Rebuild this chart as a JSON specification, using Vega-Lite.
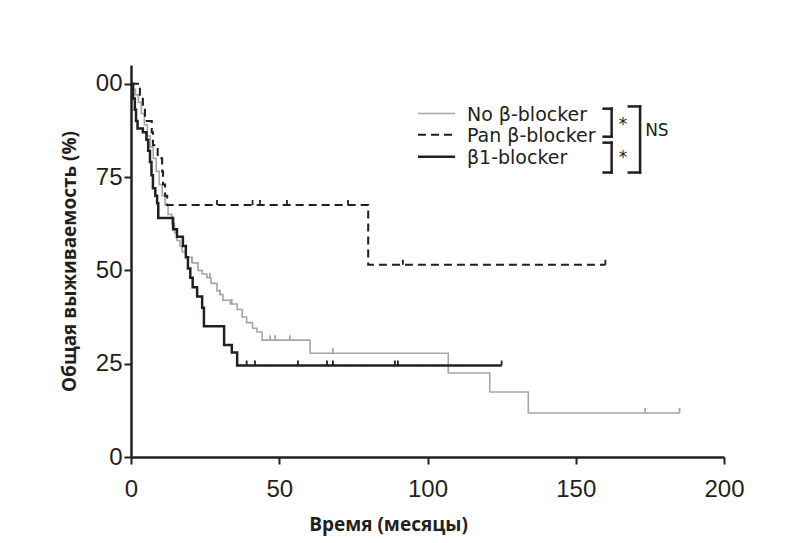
{
  "$schema": "https://vega.github.io/schema/vega-lite/v6.json",
  "autosize": {"type": "none"},
  "width": 593,
  "height": 392,
  "padding": {"left": 131, "top": 65, "right": 70, "bottom": 86},
  "background": "white",
  "config": {
    "view": {"stroke": null},
    "font": "Liberation Sans",
    "axis": {
      "grid": false,
      "domainColor": "#231f20",
      "domainWidth": 2.5,
      "tickColor": "#231f20",
      "tickWidth": 2,
      "tickSize": 7,
      "labelColor": "#231f20",
      "labelFont": "Liberation Sans",
      "labelFontSize": 24,
      "labelFlush": false,
      "labelOverlap": false,
      "titleColor": "#231f20",
      "titleFont": "Open Sans",
      "titleFontWeight": "bold",
      "titleFontSize": 19
    }
  },
  "datasets": {
    "km": [
      {"g": "No β-blocker", "t": 0, "s": 100},
      {"g": "No β-blocker", "t": 0.7, "s": 98.5},
      {"g": "No β-blocker", "t": 1.5, "s": 97},
      {"g": "No β-blocker", "t": 2.5, "s": 95},
      {"g": "No β-blocker", "t": 3.5, "s": 92},
      {"g": "No β-blocker", "t": 4.5, "s": 89},
      {"g": "No β-blocker", "t": 5.5, "s": 86},
      {"g": "No β-blocker", "t": 6.5, "s": 83},
      {"g": "No β-blocker", "t": 7.5, "s": 80},
      {"g": "No β-blocker", "t": 8.5, "s": 76.5},
      {"g": "No β-blocker", "t": 9.5, "s": 73},
      {"g": "No β-blocker", "t": 10.5, "s": 70},
      {"g": "No β-blocker", "t": 11.5, "s": 67.5},
      {"g": "No β-blocker", "t": 12.5, "s": 65},
      {"g": "No β-blocker", "t": 13.8, "s": 62.5},
      {"g": "No β-blocker", "t": 14.7, "s": 60},
      {"g": "No β-blocker", "t": 15.5, "s": 58},
      {"g": "No β-blocker", "t": 16.5, "s": 56.5},
      {"g": "No β-blocker", "t": 17.2, "s": 55},
      {"g": "No β-blocker", "t": 18.5, "s": 53.5},
      {"g": "No β-blocker", "t": 20.6, "s": 52},
      {"g": "No β-blocker", "t": 22.6, "s": 50},
      {"g": "No β-blocker", "t": 24, "s": 49},
      {"g": "No β-blocker", "t": 25.6, "s": 48},
      {"g": "No β-blocker", "t": 27, "s": 46.5},
      {"g": "No β-blocker", "t": 29, "s": 44.5},
      {"g": "No β-blocker", "t": 30, "s": 43.5},
      {"g": "No β-blocker", "t": 31, "s": 42},
      {"g": "No β-blocker", "t": 33.5, "s": 41},
      {"g": "No β-blocker", "t": 35.8, "s": 39.5},
      {"g": "No β-blocker", "t": 37.5, "s": 37.5},
      {"g": "No β-blocker", "t": 39, "s": 36},
      {"g": "No β-blocker", "t": 41, "s": 34.5},
      {"g": "No β-blocker", "t": 42.5, "s": 33.5},
      {"g": "No β-blocker", "t": 44.2, "s": 31.3},
      {"g": "No β-blocker", "t": 60.4, "s": 27.8},
      {"g": "No β-blocker", "t": 107, "s": 22.5},
      {"g": "No β-blocker", "t": 121, "s": 17.4},
      {"g": "No β-blocker", "t": 134, "s": 11.8},
      {"g": "No β-blocker", "t": 185, "s": 11.8},
      {"g": "β1-blocker", "t": 0, "s": 100},
      {"g": "β1-blocker", "t": 0.7, "s": 96},
      {"g": "β1-blocker", "t": 1.3, "s": 93},
      {"g": "β1-blocker", "t": 1.7, "s": 90},
      {"g": "β1-blocker", "t": 2.2, "s": 88},
      {"g": "β1-blocker", "t": 4, "s": 87},
      {"g": "β1-blocker", "t": 5.2, "s": 85},
      {"g": "β1-blocker", "t": 5.8, "s": 82},
      {"g": "β1-blocker", "t": 6.4, "s": 79},
      {"g": "β1-blocker", "t": 6.9, "s": 75.5},
      {"g": "β1-blocker", "t": 7.4, "s": 72},
      {"g": "β1-blocker", "t": 8.2, "s": 70},
      {"g": "β1-blocker", "t": 8.8, "s": 68},
      {"g": "β1-blocker", "t": 9.2, "s": 64},
      {"g": "β1-blocker", "t": 14.2, "s": 61},
      {"g": "β1-blocker", "t": 15.5, "s": 59},
      {"g": "β1-blocker", "t": 17.5, "s": 56.5},
      {"g": "β1-blocker", "t": 18.5, "s": 53.5},
      {"g": "β1-blocker", "t": 19.2, "s": 50.5},
      {"g": "β1-blocker", "t": 20, "s": 48},
      {"g": "β1-blocker", "t": 20.8, "s": 45.5},
      {"g": "β1-blocker", "t": 22.3, "s": 43},
      {"g": "β1-blocker", "t": 24, "s": 40},
      {"g": "β1-blocker", "t": 24.6, "s": 35},
      {"g": "β1-blocker", "t": 31.4, "s": 30},
      {"g": "β1-blocker", "t": 34, "s": 28},
      {"g": "β1-blocker", "t": 35.8, "s": 24.5},
      {"g": "β1-blocker", "t": 125, "s": 24.5},
      {"g": "Pan β-blocker", "t": 0, "s": 100},
      {"g": "Pan β-blocker", "t": 3, "s": 96.5},
      {"g": "Pan β-blocker", "t": 4, "s": 93},
      {"g": "Pan β-blocker", "t": 4.7, "s": 90},
      {"g": "Pan β-blocker", "t": 7, "s": 87},
      {"g": "Pan β-blocker", "t": 7.4, "s": 83.5},
      {"g": "Pan β-blocker", "t": 9, "s": 80},
      {"g": "Pan β-blocker", "t": 10.5, "s": 76.5},
      {"g": "Pan β-blocker", "t": 10.8, "s": 73},
      {"g": "Pan β-blocker", "t": 11.5, "s": 70},
      {"g": "Pan β-blocker", "t": 12.2, "s": 67.5},
      {"g": "Pan β-blocker", "t": 80, "s": 51.5},
      {"g": "Pan β-blocker", "t": 160, "s": 51.5}
    ],
    "cens": [
      {"g": "No β-blocker", "t": 20.5, "s": 52},
      {"g": "No β-blocker", "t": 26.6, "s": 48},
      {"g": "No β-blocker", "t": 30, "s": 43.5},
      {"g": "No β-blocker", "t": 34, "s": 41},
      {"g": "No β-blocker", "t": 46.9, "s": 31.3},
      {"g": "No β-blocker", "t": 48.6, "s": 31.3},
      {"g": "No β-blocker", "t": 53.6, "s": 31.3},
      {"g": "No β-blocker", "t": 68.1, "s": 27.8},
      {"g": "No β-blocker", "t": 173.4, "s": 11.8},
      {"g": "No β-blocker", "t": 185, "s": 11.8},
      {"g": "β1-blocker", "t": 39, "s": 24.5},
      {"g": "β1-blocker", "t": 41.8, "s": 24.5},
      {"g": "β1-blocker", "t": 56.3, "s": 24.5},
      {"g": "β1-blocker", "t": 66.1, "s": 24.5},
      {"g": "β1-blocker", "t": 68.1, "s": 24.5},
      {"g": "β1-blocker", "t": 89, "s": 24.5},
      {"g": "β1-blocker", "t": 90, "s": 24.5},
      {"g": "β1-blocker", "t": 125, "s": 24.5},
      {"g": "Pan β-blocker", "t": 29, "s": 67.5},
      {"g": "Pan β-blocker", "t": 41, "s": 67.5},
      {"g": "Pan β-blocker", "t": 43.5, "s": 67.5},
      {"g": "Pan β-blocker", "t": 52.6, "s": 67.5},
      {"g": "Pan β-blocker", "t": 73.2, "s": 67.5},
      {"g": "Pan β-blocker", "t": 91.7, "s": 51.5},
      {"g": "Pan β-blocker", "t": 160, "s": 51.5}
    ],
    "leg": [
      {"g": "No β-blocker", "x1": 96.8, "x2": 109.3, "y": 92, "lx": 113.3},
      {"g": "Pan β-blocker", "x1": 96.8, "x2": 109.3, "y": 86.3, "lx": 113.3},
      {"g": "β1-blocker", "x1": 96.8, "x2": 109.3, "y": 80.4, "lx": 113.3}
    ],
    "br": [
      {"x1": 162.1, "y1": 93.3, "x2": 162.1, "y2": 85.8},
      {"x1": 159.4, "y1": 93.3, "x2": 162.1, "y2": 93.3},
      {"x1": 159.4, "y1": 85.8, "x2": 162.1, "y2": 85.8},
      {"x1": 162.1, "y1": 84.2, "x2": 162.1, "y2": 76.2},
      {"x1": 159.4, "y1": 84.2, "x2": 162.1, "y2": 84.2},
      {"x1": 159.4, "y1": 76.2, "x2": 162.1, "y2": 76.2},
      {"x1": 171.7, "y1": 93.9, "x2": 171.7, "y2": 76.2},
      {"x1": 167.9, "y1": 93.9, "x2": 171.7, "y2": 93.9},
      {"x1": 167.9, "y1": 76.2, "x2": 171.7, "y2": 76.2}
    ],
    "notes": [
      {"x": 164.5, "y": 88.8, "text": "*"},
      {"x": 164.5, "y": 80.2, "text": "*"},
      {"x": 173.4, "y": 87.4, "text": "NS"}
    ]
  },
  "layer": [
    {
      "data": {"name": "km"},
      "mark": {"type": "line", "interpolate": "step-after", "strokeCap": "butt"},
      "encoding": {
        "x": {
          "field": "t", "type": "quantitative",
          "scale": {"domain": [0, 200], "nice": false},
          "axis": {
            "values": [0, 50, 100, 150, 200],
            "labelPadding": 13,
            "title": "Время (месяцы)",
            "titleX": 257, "titleY": 67,
            "titleAlign": "center", "titleBaseline": "middle"
          }
        },
        "y": {
          "field": "s", "type": "quantitative",
          "scale": {"domain": [0, 105], "nice": false},
          "axis": {
            "values": [0, 25, 50, 75, 100],
            "labelExpr": "datum.value == 100 ? '00' : datum.label",
            "labelPadding": 2,
            "title": "Общая выживаемость (%)",
            "titleX": -62, "titleY": 196,
            "titleAngle": -90,
            "titleAlign": "center", "titleBaseline": "middle"
          }
        },
        "color": {
          "field": "g", "type": "nominal",
          "scale": {"domain": ["No β-blocker", "Pan β-blocker", "β1-blocker"], "range": ["#a6a6a6", "#231f20", "#231f20"]},
          "legend": null
        },
        "strokeDash": {
          "field": "g", "type": "nominal",
          "scale": {"domain": ["No β-blocker", "Pan β-blocker", "β1-blocker"], "range": [[1, 0], [8, 5], [1, 0]]},
          "legend": null
        },
        "strokeWidth": {
          "field": "g", "type": "ordinal",
          "scale": {"domain": ["No β-blocker", "Pan β-blocker", "β1-blocker"], "range": [1.6, 2.5, 2.5]},
          "legend": null
        },
        "order": {"field": "t", "type": "quantitative"}
      }
    },
    {
      "data": {"name": "cens"},
      "mark": {"type": "point", "shape": "M0,-1L0,0", "filled": false, "size": 100, "strokeWidth": 1.8, "opacity": 1},
      "encoding": {
        "x": {"field": "t", "type": "quantitative"},
        "y": {"field": "s", "type": "quantitative"},
        "color": {"field": "g", "type": "nominal", "legend": null}
      }
    },
    {
      "data": {"name": "leg"},
      "mark": {"type": "rule", "strokeCap": "butt"},
      "encoding": {
        "x": {"field": "x1", "type": "quantitative"},
        "x2": {"field": "x2"},
        "y": {"field": "y", "type": "quantitative"},
        "color": {"field": "g", "type": "nominal", "legend": null},
        "strokeDash": {"field": "g", "type": "nominal", "legend": null},
        "strokeWidth": {"field": "g", "type": "ordinal", "legend": null}
      }
    },
    {
      "data": {"name": "leg"},
      "mark": {"type": "text", "align": "left", "baseline": "middle", "fontSize": 19, "font": "DejaVu Sans", "color": "#231f20", "dy": 1},
      "encoding": {
        "x": {"field": "lx", "type": "quantitative"},
        "y": {"field": "y", "type": "quantitative"},
        "text": {"field": "g"}
      }
    },
    {
      "data": {"name": "br"},
      "mark": {"type": "rule", "color": "#231f20", "strokeWidth": 2.5, "strokeCap": "square"},
      "encoding": {
        "x": {"field": "x1", "type": "quantitative"},
        "x2": {"field": "x2"},
        "y": {"field": "y1", "type": "quantitative"},
        "y2": {"field": "y2"}
      }
    },
    {
      "data": {"name": "notes"},
      "mark": {"type": "text", "align": "left", "baseline": "middle", "fontSize": 17, "font": "DejaVu Sans", "color": "#231f20"},
      "encoding": {
        "x": {"field": "x", "type": "quantitative"},
        "y": {"field": "y", "type": "quantitative"},
        "text": {"field": "text"}
      }
    }
  ]
}
